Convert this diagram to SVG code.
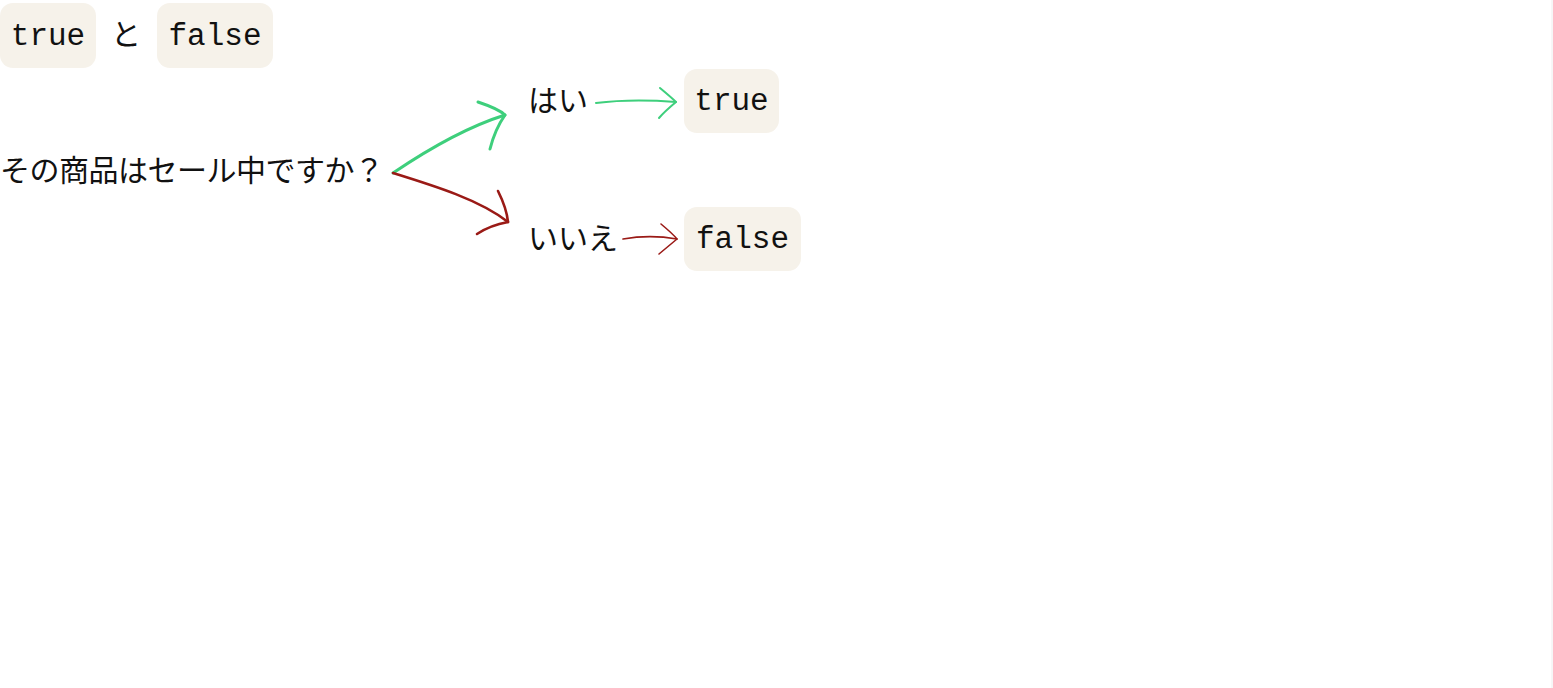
<svg xmlns="http://www.w3.org/2000/svg" width="1553" height="688" viewBox="0 0 1553 688">
<style>
.code{fill:#f6f2ea}
.mono{font-family:"Liberation Mono","Courier New",monospace;font-size:31px;fill:#111}
.jp{font-family:"Noto Sans CJK JP","Noto Sans",sans-serif;font-size:30px;fill:#111}
.g{fill:none;stroke:#3ecf7c;stroke-linecap:round;stroke-linejoin:round}
.r{fill:none;stroke:#9a1a16;stroke-linecap:round;stroke-linejoin:round}
</style>
<rect width="1553" height="688" fill="#ffffff"/>
<line x1="1552" y1="0" x2="1552" y2="688" stroke="#eeeeee" stroke-width="1"/>
<g id="title">
  <rect class="code" x="0" y="3" width="96" height="65" rx="13"/>
  <text class="mono" x="48" y="45" text-anchor="middle">true</text>
  <text class="jp" x="126" y="45" text-anchor="middle">と</text>
  <rect class="code" x="157" y="3" width="116" height="65" rx="13"/>
  <text class="mono" x="215" y="45" text-anchor="middle">false</text>
</g>
<g id="question">
  <text class="jp" x="0" y="181" textLength="384" lengthAdjust="spacing">その商品はセール中ですか？</text>
</g>
<g id="yes">
  <text class="jp" x="528" y="111">はい</text>
</g>
<g id="no">
  <text class="jp" x="528" y="249">いいえ</text>
</g>
<g id="true-box">
  <rect class="code" x="684" y="69" width="95" height="64" rx="13"/>
  <text class="mono" x="731.5" y="110" text-anchor="middle">true</text>
</g>
<g id="false-box">
  <rect class="code" x="684" y="207" width="117" height="64" rx="13"/>
  <text class="mono" x="742.5" y="248" text-anchor="middle">false</text>
</g>
<g id="connectors">
  <path class="g" stroke-width="3" d="M393,173 C430,148 470,126 505,115"/>
  <path class="g" stroke-width="3" d="M478,102 C490,106 500,110 505,115 C498,125 493,137 490,149"/>
  <path class="r" stroke-width="2.6" d="M393,173 C435,186 480,200 508,222"/>
  <path class="r" stroke-width="2.6" d="M498,191 C503,201 507,212 508,222 C497,224 486,228 477,234"/>
  <path class="g" stroke-width="2" d="M596,103 C620,100 650,100 676,102"/>
  <path class="g" stroke-width="2" d="M660,88 C666,93 672,98 676,102 C670,107 664,112 659,118"/>
  <path class="r" stroke-width="1.6" d="M623,239 C640,236 660,236 677,239"/>
  <path class="r" stroke-width="1.6" d="M661,224 C667,229 673,234 677,239 C671,244 665,249 659,254"/>
</g>
</svg>
